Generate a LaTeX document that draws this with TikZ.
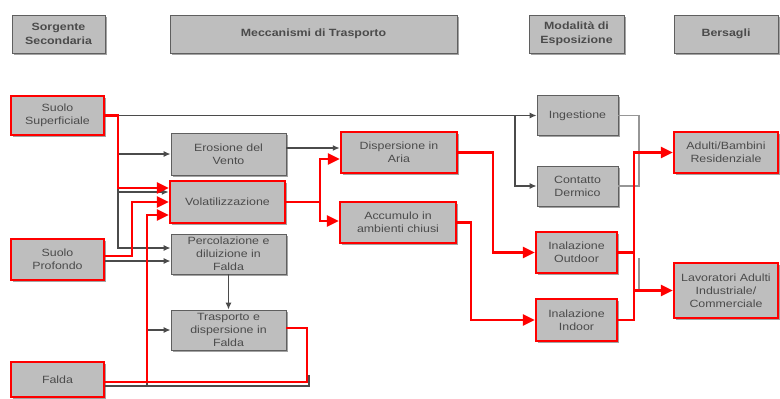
\documentclass[tikz,border=0pt]{standalone}
\usepackage{fontspec}
\setmainfont{Liberation Sans}[FakeStretch=1.18]
\usetikzlibrary{arrows.meta,shadows}
\definecolor{boxfill}{RGB}{190,190,190}
\definecolor{boxline}{RGB}{95,95,95}
\definecolor{txt}{RGB}{75,75,75}
\definecolor{lnk}{RGB}{75,75,75}
\definecolor{lnktwo}{RGB}{150,150,150}
\definecolor{hl}{RGB}{255,0,0}
\begin{document}
\begin{tikzpicture}[x=1pt,y=-1pt,
  box/.style={rectangle, fill=boxfill, draw=boxline, line width=0.8pt, align=center,
    text=txt, font=\fontsize{10.5}{13}\selectfont, inner sep=1pt,
    drop shadow={shadow xshift=1.5pt,shadow yshift=-1.5pt,fill=black!60,opacity=0.6}},
  hbox/.style={box, font=\fontsize{10.5}{14}\selectfont\bfseries},
  redbox/.style={box, draw=hl, line width=2.5pt},
  gl/.style={draw=lnk, line width=1.3pt},
  ga/.style={gl, -{Latex[length=7pt,width=6pt]}},
  gltwo/.style={draw=lnktwo, line width=1.3pt},
  rl/.style={draw=hl, line width=2.5pt},
  ra/.style={rl, -{Triangle[length=12pt,width=11pt]}}
]
\fill[white] (0,0) rectangle (780,399);
\useasboundingbox (0,0) rectangle (780,399);

% header
\node[hbox, minimum width=93pt, minimum height=38pt] (hS) at (58.5,34) {Sorgente\\Secondaria};
\node[hbox, minimum width=287pt, minimum height=38pt] (hM) at (313.5,34) {Meccanismi di Trasporto};
\node[hbox, minimum width=95pt, minimum height=38pt] (hE) at (576.5,34) {Modalità di\\Esposizione};
\node[hbox, minimum width=104pt, minimum height=38pt] (hB) at (726,34) {Bersagli};

% sources
\node[redbox, minimum width=93pt, minimum height=39pt] (ss) at (57.5,115.5) {Suolo\\Superficiale};
\node[redbox, minimum width=93pt, minimum height=41pt] (sp) at (57.5,259.5) {Suolo\\Profondo};
\node[redbox, minimum width=93pt, minimum height=35pt] (fa) at (57.5,379.5) {Falda};

% transport
\node[box, minimum width=115pt, minimum height=42pt] (er) at (228.5,154) {Erosione del\\Vento};
\node[redbox, minimum width=115pt, minimum height=42pt] (vo) at (227.5,202) {Volatilizzazione};
\node[box, minimum width=115pt, minimum height=40pt] (pe) at (228.5,254) {Percolazione e\\diluizione in\\Falda};
\node[box, minimum width=115pt, minimum height=40pt] (tr) at (228.5,330) {Trasporto e\\dispersione in\\Falda};
\node[redbox, minimum width=116pt, minimum height=41pt] (da) at (399,152.5) {Dispersione in\\Aria};
\node[redbox, minimum width=116pt, minimum height=41pt] (ac) at (398,222.5) {Accumulo in\\ambienti chiusi};

% exposure
\node[box, minimum width=81pt, minimum height=40pt] (in) at (577.5,115.5) {Ingestione};
\node[box, minimum width=81pt, minimum height=40pt] (cd) at (577.5,186) {Contatto\\Dermico};
\node[redbox, minimum width=81pt, minimum height=41pt] (io) at (576.5,252.5) {Inalazione\\Outdoor};
\node[redbox, minimum width=81pt, minimum height=42pt] (ii) at (576.5,320) {Inalazione\\Indoor};

% targets
\node[redbox, minimum width=104pt, minimum height=41pt] (ad) at (726,152.5) {Adulti/Bambini\\Residenziale};
\node[redbox, minimum width=104pt, minimum height=55pt] (la) at (726,290.5) {Lavoratori Adulti\\Industriale/\\Commerciale};

% gray connectors
\draw[ga] (ss.east) -- (ss.east -| in.west);
\coordinate (j1) at (515,115.5);
\draw[ga] (j1) |- (cd.west);
\draw[ga] (ss.east) -- (118,115.5) |- ([yshift=6pt]pe.west);
\draw[ga] (118,154) -- (er.west);
\draw[ga] (118,192) -- ([yshift=10pt]vo.west);
\draw[ga] ([yshift=-1.5pt]sp.east) -- ([yshift=-7pt]pe.west);
\draw[ga] (pe.south) -- (tr.north);
\draw[ga] (147,386) |- (tr.west);
\draw[gl] ([yshift=-6.5pt]fa.east) -- (309,386) -- (309,375);
\draw[ga] ([yshift=6pt]er.east) -- ([yshift=6pt]er.east -| da.west);
\draw[gltwo] (in.east) -- (639,115.5) -- (639,187);
\draw[gltwo] (cd.east) -- (639,186);
\draw[gltwo] (639,258) -- (639,291);

% red connectors
\draw[ra] (ss.east) -- (118,115.5) -- (118,188) -- ([yshift=14pt]vo.west);
\draw[ra] ([yshift=3.5pt]sp.east) -- (132,256) |- (vo.west);
\draw[ra] ([yshift=-2.5pt]fa.east) -- (147,382) |- ([yshift=-13pt]vo.west);
\draw[rl] ([yshift=2pt]tr.east) -- (307,328) -- (307,382) -- (147,382);
\draw[ra] (vo.east) -- (320,202) |- ([yshift=-6.5pt]da.west);
\draw[ra] (320,202) |- ([yshift=1.5pt]ac.west);
\draw[ra] (da.east) -- (493,152.5) |- (io.west);
\draw[ra] (ac.east) -- (471,222.5) |- (ii.west);
\draw[rl] (io.east) -- (634,252.5);
\draw[ra] (ii.east) -- (634,320) |- (ad.west);
\draw[ra] (634,290.5) -- (la.west);
\end{tikzpicture}
\end{document}
